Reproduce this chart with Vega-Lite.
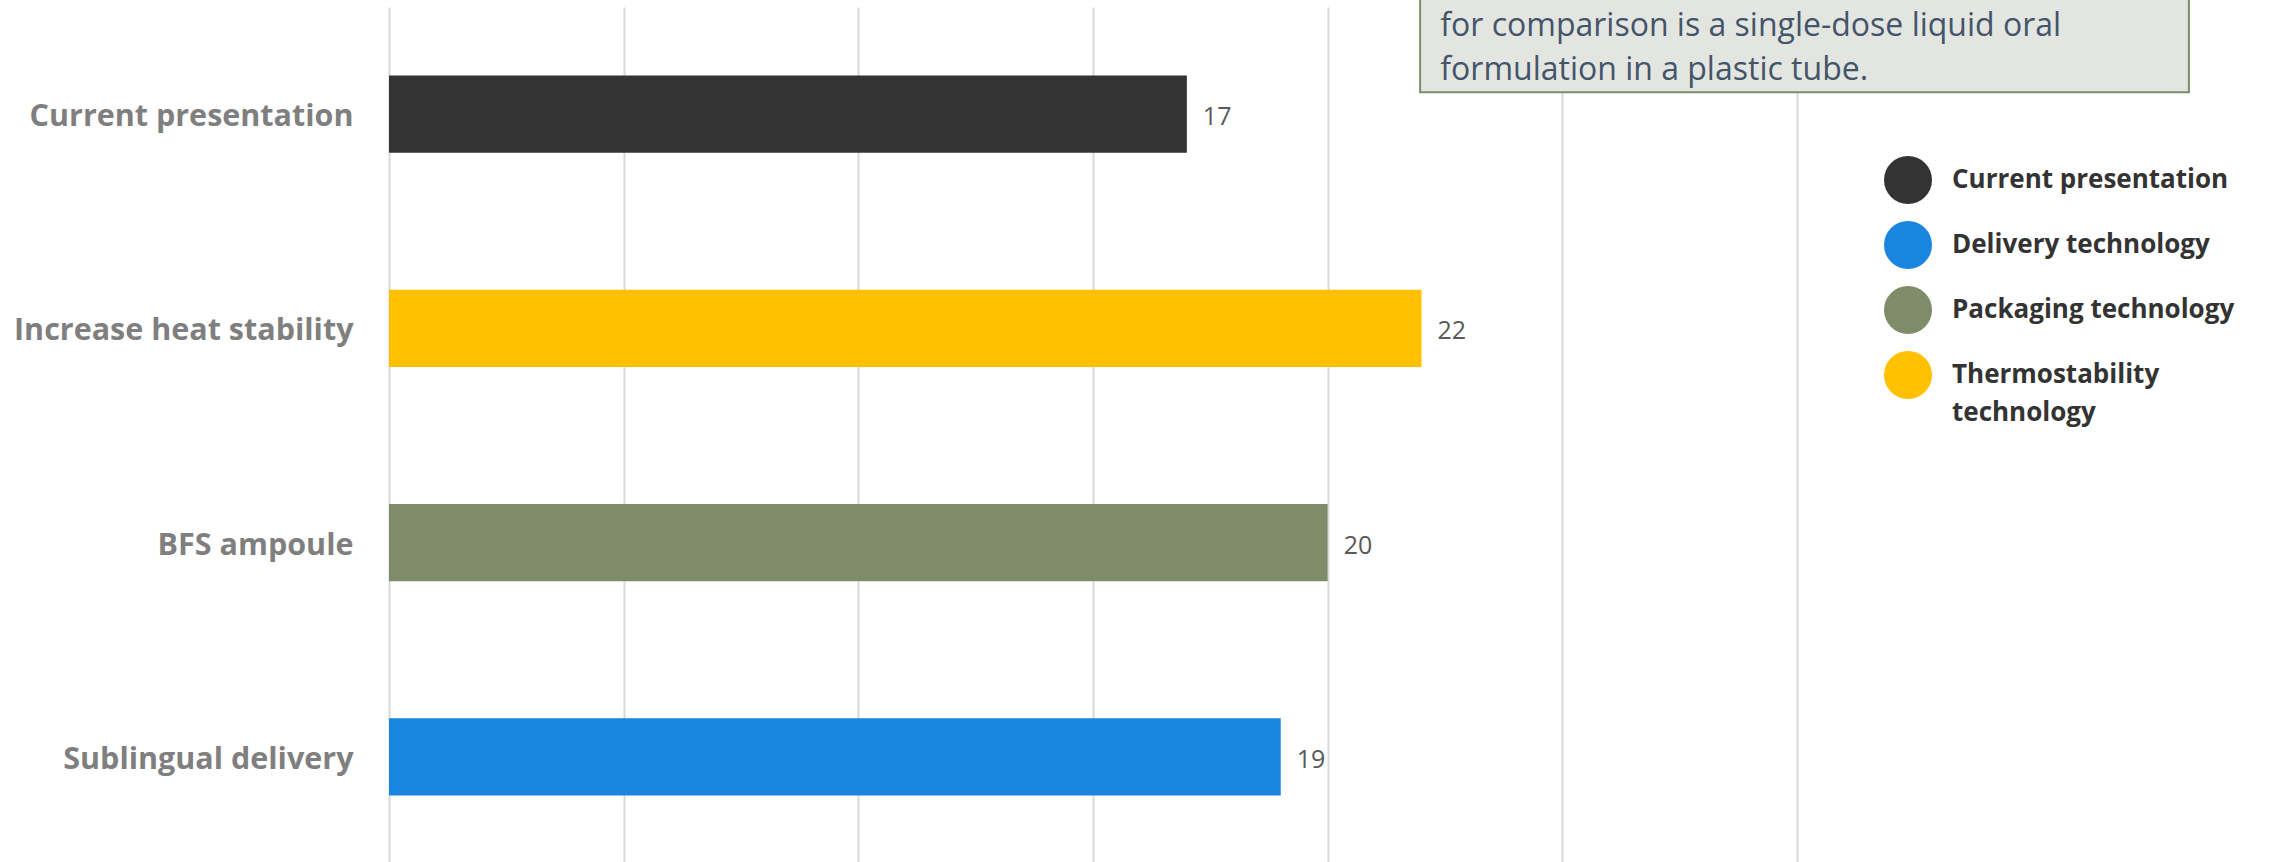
{
  "$schema": "https://vega.github.io/schema/vega-lite/v6.json",
  "width": 1408,
  "height": 857,
  "autosize": {"type": "none"},
  "padding": {"left": 389, "top": 7, "right": 473, "bottom": 0},
  "background": "white",
  "config": {"view": {"stroke": null}, "font": "Open Sans"},
  "layer": [
    {
      "data": {"values": [
        {"item": "Current presentation", "category": "Current presentation", "value": 17},
        {"item": "Increase heat stability", "category": "Thermostability technology", "value": 22},
        {"item": "BFS ampoule", "category": "Packaging technology", "value": 20},
        {"item": "Sublingual delivery", "category": "Delivery technology", "value": 19}
      ]},
      "encoding": {
        "y": {
          "field": "item", "type": "nominal", "sort": null,
          "scale": {"paddingInner": 0.64, "paddingOuter": 0.32},
          "axis": {"title": null, "labelFontSize": 30.5, "labelFontWeight": "bold", "labelColor": "#7F7F7F", "labelPadding": 36, "labelOffset": 3, "ticks": false, "domain": false, "labelLimit": 500, "labelFont": "Open Sans"}
        },
        "x": {
          "field": "value", "type": "quantitative",
          "scale": {"domain": [0, 30], "nice": false, "zero": true},
          "axis": {"title": null, "labels": false, "ticks": false, "domain": false, "grid": true, "values": [0, 5, 10, 15, 20, 25, 30], "gridColor": "#D9D9D9", "gridWidth": 2}
        }
      },
      "layer": [
        {
          "mark": {"type": "bar", "clip": false},
          "encoding": {
            "color": {
              "field": "category", "type": "nominal",
              "scale": {"domain": ["Current presentation", "Delivery technology", "Packaging technology", "Thermostability technology"], "range": ["#333333", "#1A85DE", "#7E8C69", "#FFC000"]},
              "legend": {
                "title": null, "orient": "none", "legendX": 1495, "legendY": 149, "padding": 0,
                "symbolType": "circle", "symbolSize": 2304, "symbolStrokeWidth": 0, "symbolOpacity": 1,
                "labelFontSize": 26, "labelFontWeight": "bold", "labelColor": "#333333", "labelFont": "Open Sans",
                "labelOffset": 20, "rowPadding": 17, "labelLimit": 500,
                "labelExpr": "datum.label == 'Thermostability technology' ? ['Thermostability', 'technology'] : datum.label",
                "encode": {"labels": {"update": {"lineHeight": {"value": 38}}}}
              }
            }
          }
        },
        {
          "mark": {"type": "text", "align": "left", "baseline": "middle", "dx": 16, "dy": 3, "fontSize": 25, "color": "#595959", "font": "Open Sans"},
          "encoding": {"text": {"field": "value", "type": "quantitative"}}
        }
      ]
    },
    {
      "data": {"values": [
        {"note": "for comparison is a single-dose liquid oral\nformulation in a plastic tube."}
      ]},
      "layer": [
        {
          "mark": {"type": "rect", "fill": "#E3E6E0", "stroke": "#7E8C69", "strokeWidth": 2, "clip": false},
          "encoding": {
            "x": {"datum": 21.97, "type": "quantitative"},
            "x2": {"datum": 38.35},
            "y": {"datum": -10, "type": "quantitative", "scale": {"domain": [0, 100], "reverse": true}, "axis": null},
            "y2": {"datum": 9.95}
          }
        },
        {
          "mark": {"type": "text", "align": "left", "baseline": "alphabetic", "lineBreak": "\n", "lineHeight": 44, "fontSize": 32, "color": "#44546A", "font": "Open Sans", "clip": false},
          "encoding": {
            "x": {"datum": 22.4, "type": "quantitative"},
            "y": {"datum": 3.35, "type": "quantitative"},
            "text": {"field": "note"}
          }
        }
      ]
    }
  ],
  "resolve": {"scale": {"y": "independent"}}
}
